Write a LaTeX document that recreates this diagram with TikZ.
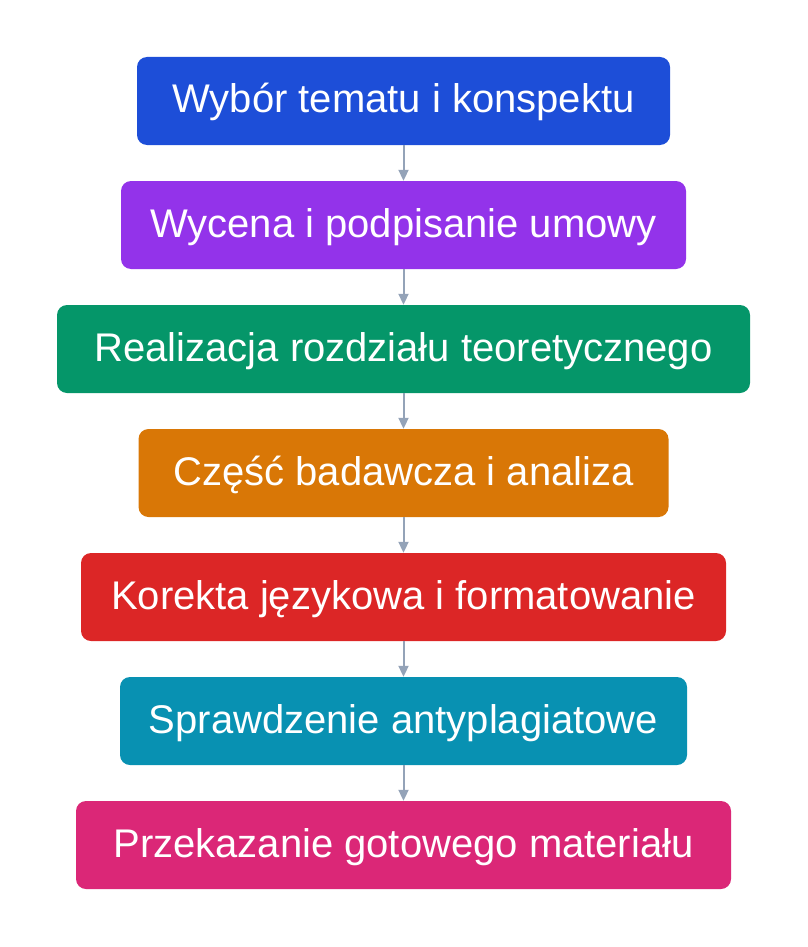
\documentclass[tikz,border=0pt]{standalone}
\usepackage{fontspec}
\setmainfont{Liberation Sans}
\usetikzlibrary{arrows.meta}
\definecolor{cblue}{HTML}{1D4ED8}
\definecolor{cpurple}{HTML}{9333EA}
\definecolor{cgreen}{HTML}{059669}
\definecolor{corange}{HTML}{D97706}
\definecolor{cred}{HTML}{DC2626}
\definecolor{ccyan}{HTML}{0891B2}
\definecolor{cpink}{HTML}{DB2777}
\definecolor{carrow}{HTML}{94A3B8}
\tikzset{
  stepbox/.style={rounded corners=10pt, inner sep=0pt, minimum height=88pt,
    text=white, font=\fontsize{40}{48}\selectfont, text height=30pt, text depth=6pt},
  arr/.style={draw=carrow, line width=2pt, -{Triangle[length=11pt,width=10pt]}}
}
\begin{document}
\begin{tikzpicture}[x=1pt,y=-1pt]
\useasboundingbox (0,0) rectangle (807,947);
\node[stepbox, fill=cblue, minimum width=533pt] (b1) at (403.5,101) {Wybór tematu i konspektu};
\node[stepbox, fill=cpurple, minimum width=565pt] (b2) at (403.5,225) {Wycena i podpisanie umowy};
\node[stepbox, fill=cgreen, minimum width=693pt] (b3) at (403.5,349) {Realizacja rozdziału teoretycznego};
\node[stepbox, fill=corange, minimum width=530pt] (b4) at (403.5,473) {Część badawcza i analiza};
\node[stepbox, fill=cred, minimum width=645pt] (b5) at (403.5,597) {Korekta językowa i formatowanie};
\node[stepbox, fill=ccyan, minimum width=567pt] (b6) at (403.5,721) {Sprawdzenie antyplagiatowe};
\node[stepbox, fill=cpink, minimum width=655pt] (b7) at (403.5,845) {Przekazanie gotowego materiału};
\draw[arr] (b1) -- (b2);
\draw[arr] (b2) -- (b3);
\draw[arr] (b3) -- (b4);
\draw[arr] (b4) -- (b5);
\draw[arr] (b5) -- (b6);
\draw[arr] (b6) -- (b7);
\end{tikzpicture}
\end{document}
